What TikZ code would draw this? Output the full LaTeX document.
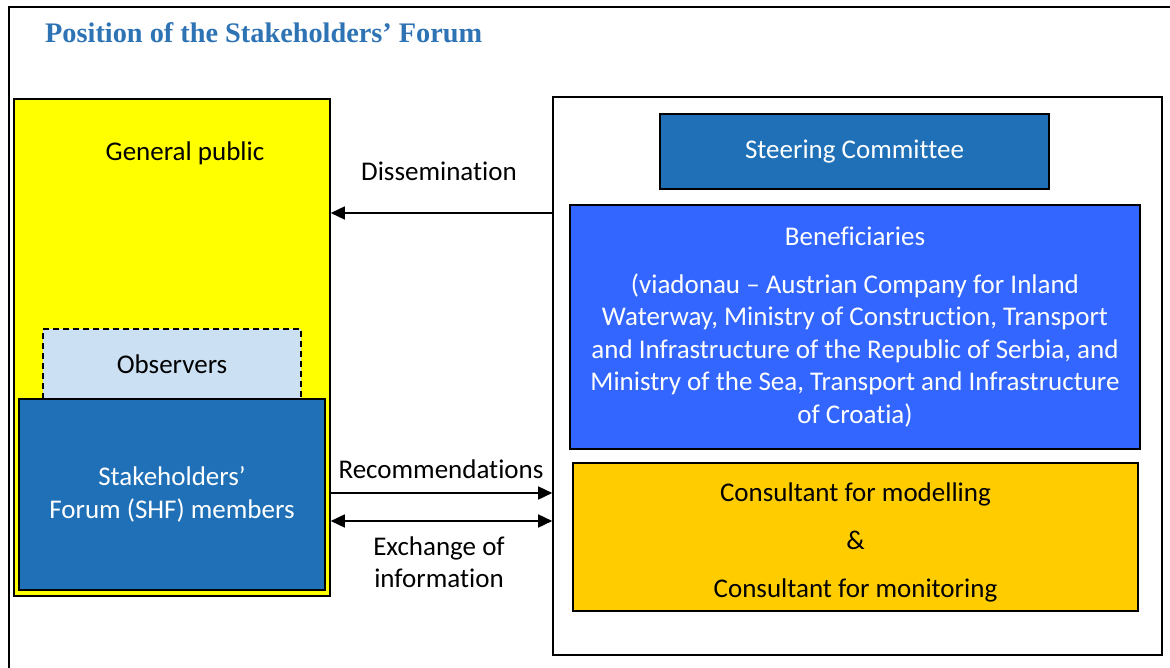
\documentclass[tikz,border=0pt]{standalone}
\usepackage{fontspec}
\setmainfont[Ligatures=NoCommon]{Carlito}
\newfontfamily\headfont{Liberation Serif}
\usetikzlibrary{arrows.meta}

\definecolor{headblue}{RGB}{46,116,181}
\definecolor{publicyellow}{RGB}{255,255,0}
\definecolor{shfblue}{RGB}{31,112,183}
\definecolor{benblue}{RGB}{51,102,255}
\definecolor{obsblue}{RGB}{204,224,244}
\definecolor{consgold}{RGB}{255,204,0}

\begin{document}
\begin{tikzpicture}[x=1pt,y=-1pt,
  every node/.style={font=\fontsize{27}{32.5}\selectfont, inner sep=0pt},
  box/.style={draw=black, line width=1.6pt, minimum width=#1},
  obsbox/.style={draw=black, line width=1.4pt, dash pattern=on 6pt off 4pt},
  link/.style={line width=1.6pt, -{Triangle[length=14pt,width=13pt]}},
  twoway/.style={line width=1.6pt, {Triangle[length=14pt,width=13pt]}-{Triangle[length=14pt,width=13pt]}}]
\useasboundingbox (0,0) rectangle (1170,668);
\fill[white] (0,0) rectangle (1170,668);
% frame round the page
\draw[line width=2pt] (1172,7) -- (9,7) -- (9,670);
\node[anchor=base west, text=headblue,
  font=\headfont\bfseries\fontsize{28.3}{32}\selectfont] (heading) at (45,43)
  {Position of the Stakeholders’ Forum};

% left column
\node[box=316pt, fill=publicyellow, minimum height=497pt] (public) at (172,347.5) {};
\node (publictext) at (185,153) {General public};
\node[obsbox, fill=obsblue, minimum width=258pt, minimum height=70pt] (observers) at (172,364) {Observers};
\node[box=306pt, fill=shfblue, minimum height=191pt, text=white, align=center] (shf) at (172,494.5)
  {Stakeholders’\\Forum (SHF) members};

% right column
\node[box=609pt, fill=white, minimum height=558pt] (project) at (857.5,376) {};
\node[box=389pt, fill=shfblue, minimum height=75pt, text=white] (steering) at (854.5,151.5) {Steering Committee};
\node[box=570pt, fill=benblue, minimum height=244pt, text=white, align=center] (benef) at (855,327)
  {Beneficiaries\\[15pt]
   (viadonau – Austrian Company for Inland\\
   Waterway, Ministry of Construction, Transport\\
   and Infrastructure of the Republic of Serbia, and\\
   Ministry of the Sea, Transport and Infrastructure\\
   of Croatia)};
\node[box=565pt, fill=consgold, minimum height=148pt] (consult) at (855.5,537) {};
\node[align=center] (consulttext) at (855.5,542)
  {Consultant for modelling\\[16pt] \&\\[15pt] Consultant for monitoring};

% connectors
\coordinate (dis) at (0,213);
\coordinate (rec) at (0,493);
\coordinate (exc) at (0,521);
\draw[link] (project.west |- dis) -- (public.east |- dis);
\draw[link] (public.east |- rec) -- (project.west |- rec);
\draw[twoway] (public.east |- exc) -- (project.west |- exc);
\node (dislabel) at (439,171) {Dissemination};
\node (reclabel) at (441,469) {Recommendations};
\node[align=center] (exclabel) at (439,562) {Exchange of\\information};
\end{tikzpicture}
\end{document}
